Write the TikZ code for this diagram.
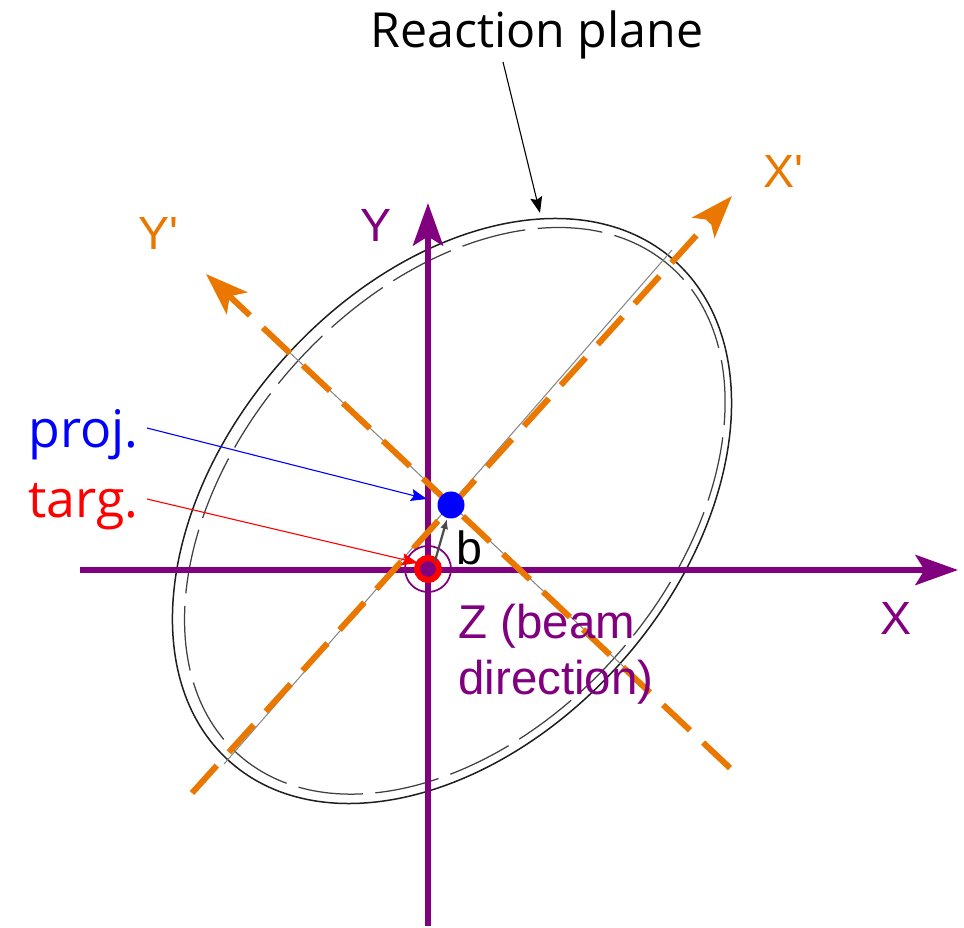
\documentclass[tikz,border=0pt]{standalone}
\usepackage{fontspec}
\setmainfont{Liberation Sans}[Ligatures=TeXOff]
\newfontfamily\ubu{Open Sans}
\usetikzlibrary{arrows.meta}
\definecolor{ax}{RGB}{128,0,128}
\definecolor{org}{RGB}{234,120,0}
\definecolor{projc}{RGB}{0,0,255}
\definecolor{targc}{RGB}{255,0,0}
\definecolor{pen}{RGB}{30,30,30}
\begin{document}
\begin{tikzpicture}[x=0.02cm,y=-0.02cm,
  axisline/.style={draw=ax,line width=0.12cm,-{Stealth[length=0.85cm,width=0.6cm,inset=0.18cm]}},
  primeline/.style={draw=org,line width=0.12cm,dash pattern=on 0.74cm off 0.36cm,-{Stealth[length=0.85cm,width=0.6cm,inset=0.2cm]}},
  thinarrow/.style={line width=0.022cm,-{Stealth[length=0.32cm,width=0.24cm,inset=0.05cm]}},
  lbl/.style={inner sep=0pt,anchor=base west,font=\fontsize{26.5}{31}\selectfont},
  ulbl/.style={inner sep=0pt,font=\ubu\fontsize{27.5}{33}\selectfont},
  ellouter/.style={draw=pen,line width=0.03cm},
  ellinner/.style={draw=pen!85,line width=0.025cm,dash pattern=on 1.3cm off 0.25cm}
]
\useasboundingbox (0,0) rectangle (964,928);
% coordinates
\coordinate (E) at (452,511);
\coordinate (O) at (428,569);
\coordinate (xs) at (80,570);
\coordinate (xe) at (958,570);
\coordinate (ys) at (428,926);
\coordinate (ye) at (428,203);
\coordinate (xps) at (192,793);
\coordinate (xpe) at (732,196);
\coordinate (yps) at (730,768);
\coordinate (ype) at (206,274);
% ellipse (reaction plane)
\draw[ellouter,rotate around={48.5:(E)}] (E) ellipse [x radius=6.7cm, y radius=4.54cm];
\draw[ellinner,rotate around={48.5:(E)}] (454,513) ellipse [x radius=6.52cm, y radius=4.34cm];
% faint pencil lines under the rotated axes
\coordinate (g1) at (224,764);
\coordinate (g2) at (672,250);
\coordinate (g3) at (270,334);
\coordinate (g4) at (642,684);
\draw[pen!55,line width=0.02cm] (g1) -- (g2);
\draw[pen!55,line width=0.02cm] (g3) -- (g4);
% axes
\draw[axisline] (xs) -- (xe);
\draw[axisline] (ys) -- (ye);
% rotated axes
\draw[primeline] (xps) -- (xpe);
\draw[primeline] (yps) -- (ype);
% target and projectile
\node[circle,draw=ax,line width=0.035cm,minimum size=0.92cm,inner sep=0pt] (targring) at (O) {};
\node[circle,draw=targc,fill=ax,line width=0.12cm,minimum size=0.44cm,inner sep=0pt] (targ) at (O) {};
\node[circle,fill=projc,minimum size=0.54cm,inner sep=0pt] (proj) at (451,505) {};
% impact parameter
\coordinate (bs) at (435,561);
\coordinate (be) at (447,519);
\draw[pen!80,line width=0.045cm,-{Latex[length=0.2cm,width=0.16cm]}] (bs) -- (be);
\node[lbl] (blbl) at (456,565) {b};
% labels
\node[lbl,text=ax] (Xl) at (880,635) {X};
\node[lbl,text=ax] (Yl) at (360,242) {Y};
\node[lbl,text=org] (Xpl) at (763,188) {X'};
\node[lbl,text=org] (Ypl) at (138,250) {Y'};
\node[lbl,text=ax,align=left,anchor=north west,font=\fontsize{27}{32}\selectfont] (Zl) at (458,604) {Z (beam\\direction)};
\node[ulbl,anchor=base] (RP) at (537,48) {Reaction plane};
\node[ulbl,anchor=base west,text=projc,font=\ubu\fontsize{29.5}{36}\selectfont] (PL) at (28,448) {proj.};
\node[ulbl,anchor=base west,text=targc,font=\ubu\fontsize{29.5}{36}\selectfont] (TL) at (28,518) {targ.};
% label arrows
\coordinate (rpa) at (503,62);
\coordinate (rpb) at (540,213);
\coordinate (pa) at (147,428);
\coordinate (pb) at (427,499);
\coordinate (ta) at (147,499);
\coordinate (tb) at (418,563);
\draw[thinarrow,black] (rpa) -- (rpb);
\draw[thinarrow,projc] (pa) -- (pb);
\draw[thinarrow,targc] (ta) -- (tb);
\end{tikzpicture}
\end{document}
